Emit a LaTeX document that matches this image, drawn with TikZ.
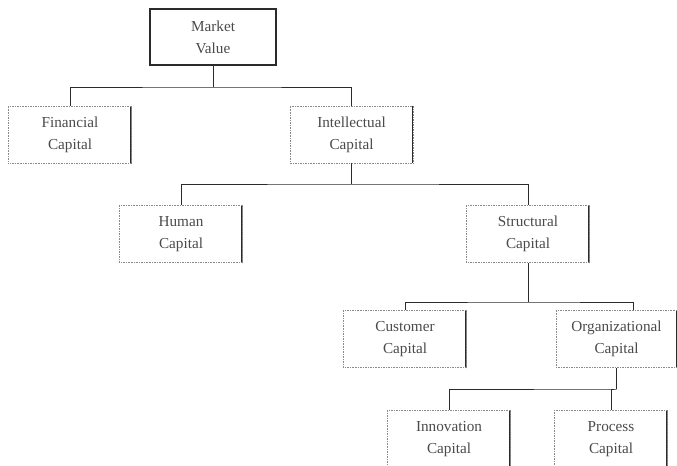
\documentclass[tikz,border=0pt]{standalone}
\usepackage{fontspec}
\setmainfont{Liberation Serif}
\usepackage{xcolor}
\usepackage{tikz}
\usetikzlibrary{positioning}
\definecolor{tinta}{HTML}{2B2B2B}
\definecolor{borde}{HTML}{8A8A8A}
\definecolor{gris}{HTML}{4A4A4A}
\tikzset{
  every picture/.style={font=\fontsize{13}{19}\selectfont},
  caja/.style={draw=borde, densely dotted, text=gris, align=center, inner sep=2pt,
               minimum width=37mm, minimum height=17.2mm,
               path picture={\draw[tinta, solid, line width=1pt]
                 ([xshift=-0.6pt]path picture bounding box.north east) --
                 ([xshift=-0.6pt]path picture bounding box.south east);}},
  cajatop/.style={draw=tinta, line width=1pt, text=gris, align=center,
               minimum width=37.8mm, minimum height=16.8mm},
  rama/.style={draw=tinta, line width=0.8pt},
}

\begin{document}
\begin{tikzpicture}[x=0.3mm, y=-0.3mm]
  \useasboundingbox (0,0) rectangle (677,465);
  \clip (0,0) rectangle (677,465);
  \node[cajatop] (MV) at (213,37) {Market\\Value};
  \node[caja] (Fin) at (70,134.5) {Financial\\Capital};
  \node[caja] (Int) at (351.5,134.5) {Intellectual\\Capital};
  \node[caja] (Hum) at (181,234) {Human\\Capital};
  \node[caja] (Str) at (528,234) {Structural\\Capital};
  \node[caja] (Cus) at (405,339) {Customer\\Capital};
  \node[caja, minimum width=36.3mm] (Org) at (616.5,339) {Organizational\\Capital};
  \node[caja] (Inn) at (449,439) {Innovation\\Capital};
  \node[caja, minimum width=34mm] (Pro) at (611,439) {Process\\Capital};
  % buses
  \coordinate (b1) at (0,87);
  \coordinate (b2) at (0,184);
  \coordinate (b3) at (0,302);
  \coordinate (b4) at (0,389);
  \draw[rama] (MV.south) -- (MV.south |- b1);
  \draw[rama] (Fin.north) |- (MV.south |- b1) -| (Int.north);
  \draw[rama] (Int.south) -- (Int.south |- b2);
  \draw[rama] (Hum.north) |- (Int.south |- b2) -| (Str.north);
  \draw[rama] (Str.south) -- (Str.south |- b3);
  \draw[rama] (Cus.north) |- (Str.south |- b3) -| ([xshift=5mm]Org.north);
  \draw[rama] (Org.south) -- (Org.south |- b4);
  \draw[rama] (Inn.north) |- (Org.south |- b4) -| (Pro.north);
\end{tikzpicture}
\end{document}
